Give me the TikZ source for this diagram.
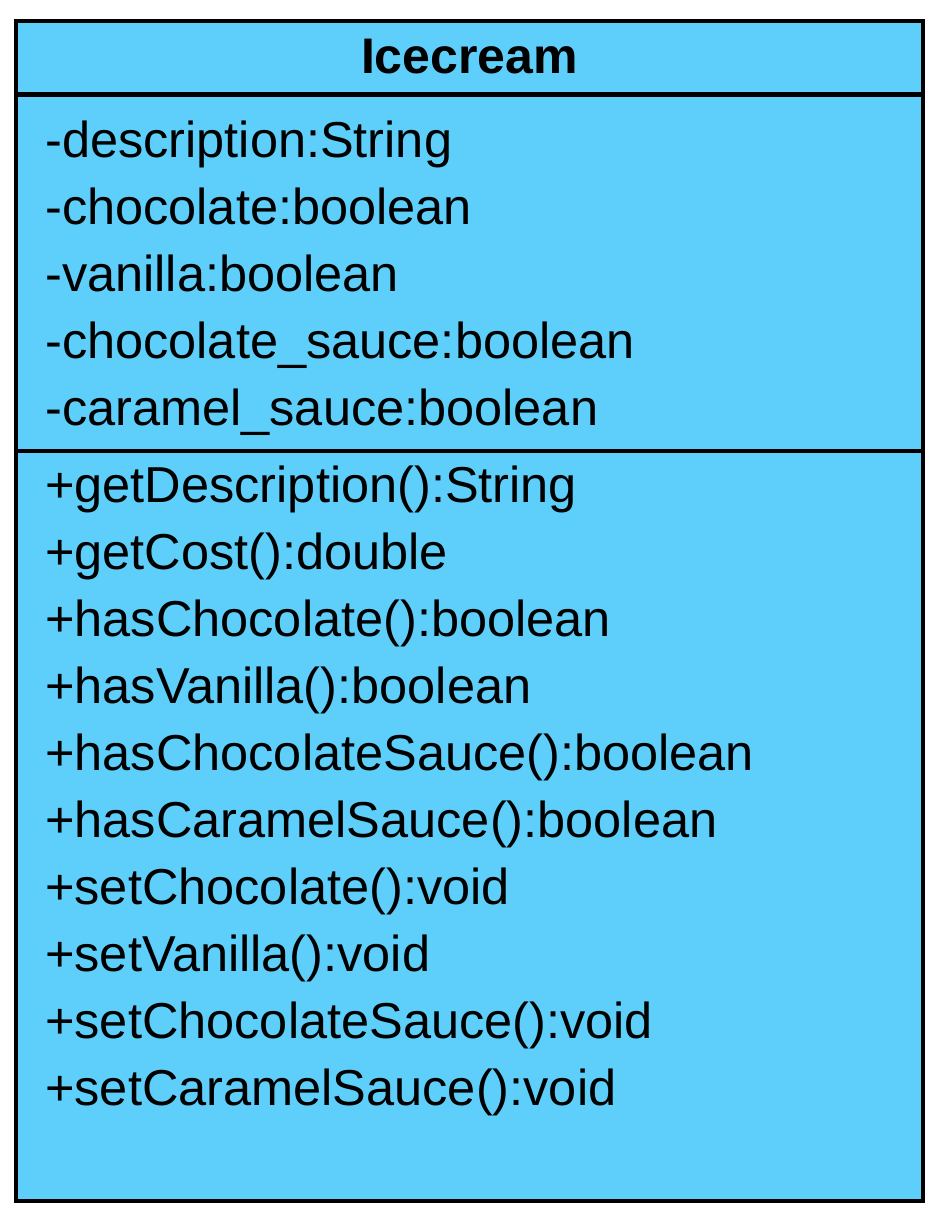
\documentclass[tikz,border=0pt]{standalone}
\usepackage{fontspec}
\setmainfont{Liberation Sans}
\definecolor{boxblue}{RGB}{93,207,250}
\begin{document}
\begin{tikzpicture}[x=1pt,y=-1pt,
  member/.style={anchor=base west, inner sep=0pt, font=\fontsize{50.5}{55}\selectfont},
  titletext/.style={anchor=base, inner sep=0pt, font=\fontsize{50}{55}\selectfont\bfseries},
  border/.style={line width=4.2pt, draw=black}]
\useasboundingbox (0,0) rectangle (942,1224);
\coordinate (tl) at (16,21);
\coordinate (br) at (923,1201);
\filldraw[fill=boxblue, border] (tl) rectangle (br);
\coordinate (h1) at (16,94.5);
\coordinate (h2) at (923,94.5);
\coordinate (d1) at (16,451);
\coordinate (d2) at (923,451);
\draw[border] (h1) -- (h2);
\draw[border] (d1) -- (d2);
\node[titletext] (title) at (469.5,73) {Icecream};
\node[member] (a1) at (45,157) {-description:String};
\node[member] (a2) at (45,224) {-chocolate:boolean};
\node[member] (a3) at (45,291) {-vanilla:boolean};
\node[member] (a4) at (45,358) {-chocolate\_sauce:boolean};
\node[member] (a5) at (45,425) {-caramel\_sauce:boolean};
\node[member] (m1) at (45,502) {+getDescription():String};
\node[member] (m2) at (45,569) {+getCost():double};
\node[member] (m3) at (45,636) {+hasChocolate():boolean};
\node[member] (m4) at (45,703) {+hasVanilla():boolean};
\node[member] (m5) at (45,770) {+hasChocolateSauce():boolean};
\node[member] (m6) at (45,837) {+hasCaramelSauce():boolean};
\node[member] (m7) at (45,904) {+setChocolate():void};
\node[member] (m8) at (45,971) {+setVanilla():void};
\node[member] (m9) at (45,1038) {+setChocolateSauce():void};
\node[member] (m10) at (45,1105) {+setCaramelSauce():void};
\end{tikzpicture}
\end{document}
